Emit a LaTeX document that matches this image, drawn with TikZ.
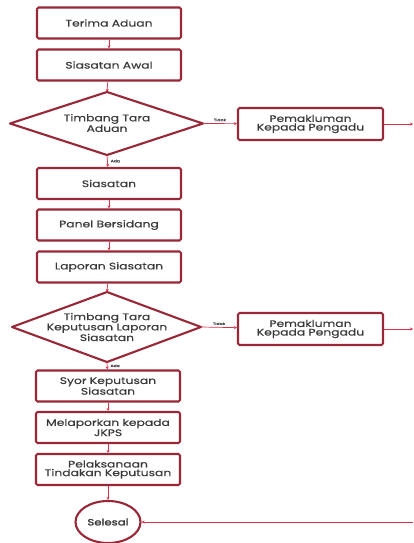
\documentclass[tikz,border=0pt]{standalone}
\usepackage{fontspec}
\setmainfont{Poppins}
\newfontfamily\boxfont{Poppins}[FakeStretch=1.3, FakeBold=0.5]
\newfontfamily\endfont{Poppins}[FakeStretch=1.3, FakeBold=2]
\usetikzlibrary{shapes.geometric,arrows.meta}
\definecolor{bord}{HTML}{982838}
\definecolor{conn}{HTML}{D8324A}
\definecolor{txt}{HTML}{3A3A3A}
\begin{document}
\begin{tikzpicture}[x=1pt,y=-1pt,
  box/.style={draw=bord, line width=2.1pt, rounded corners=1.5pt, minimum width=144pt, minimum height=31pt, text=txt, font=\boxfont\fontsize{9.5}{8.6}\selectfont, align=center, inner sep=1pt},
  dtext/.style={text=txt, font=\boxfont\fontsize{9.5}{8.6}\selectfont, align=center, inner sep=0pt},
  dia/.style={draw=bord, line width=2.1pt, line join=round},
  conn/.style={draw=conn, line width=0.7pt, -{Stealth[length=3pt,width=3pt]}},
  lbl/.style={text=txt, font=\boxfont\fontsize{3.5}{4}\selectfont, inner sep=0pt},
  endnode/.style={draw=bord, line width=2.1pt, ellipse, minimum width=65pt, minimum height=42pt, text=txt, font=\endfont\fontsize{9}{9}\selectfont, inner sep=0pt}]
\useasboundingbox (0,0) rectangle (413,543);

\node[box] (terima) at (109,23) {Terima Aduan};
\node[box] (awal) at (109,65) {Siasatan Awal};

\coordinate (d1n) at (107,92);
\coordinate (d1s) at (107,155);
\coordinate (d1w) at (10,123.5);
\coordinate (d1e) at (203,123.5);
\draw[dia] (d1n) -- (d1e) -- (d1s) -- (d1w) -- cycle;
\node[dtext] (d1) at (107,123) {Timbang Tara\\Aduan};

\node[box, minimum width=145pt, minimum height=32pt] (pem1) at (310.5,124) {Pemakluman\\Kepada Pengadu};
\coordinate (r1) at (413,124);

\node[box] (siasatan) at (109,183.5) {Siasatan};
\node[box] (panel) at (109,225) {Panel Bersidang};
\node[box] (laporan) at (109,267) {Laporan Siasatan};

\coordinate (d2n) at (107,292);
\coordinate (d2s) at (107,362);
\coordinate (d2w) at (12,327);
\coordinate (d2e) at (201,327);
\draw[dia] (d2n) -- (d2e) -- (d2s) -- (d2w) -- cycle;
\node[dtext] (d2) at (107,327) {Timbang Tara\\Keputusan Laporan\\Siasatan};

\node[box, minimum width=145pt, minimum height=32pt] (pem2) at (310.5,329) {Pemakluman\\Kepada Pengadu};
\coordinate (r2) at (413,329);

\node[box] (syor) at (108,386) {Syor Keputusan\\Siasatan};
\node[box] (jkps) at (108,427.5) {Melaporkan kepada\\JKPS};
\node[box] (laks) at (108,469.5) {Pelaksanaan\\Tindakan Keputusan};
\node[endnode] (selesai) at (108,522) {Selesai};
\coordinate (r3) at (413,522);

\draw[conn] (terima) -- (awal);
\draw[conn] (awal) -- (d1n);
\draw[conn] (d1e) -- node[lbl, above=2pt, pos=0.5] {Tidak} (pem1);
\draw[conn] (pem1) -- (r1);
\draw[conn] (d1s) -- node[lbl, right=3pt] {Ada} (siasatan);
\draw[conn] (siasatan) -- (panel);
\draw[conn] (panel) -- (laporan);
\draw[conn] (laporan) -- (d2n);
\draw[conn] (d2e) -- node[lbl, above=2pt, pos=0.5] {Tidak} (pem2);
\draw[conn] (pem2) -- (r2);
\draw[conn] (d2s) -- node[lbl, right=3pt] {Ada} (syor);
\draw[conn] (syor) -- (jkps);
\draw[conn] (jkps) -- (laks);
\draw[conn] (laks) -- (selesai);
\draw[conn] (r3) -- (selesai);
\end{tikzpicture}
\end{document}
